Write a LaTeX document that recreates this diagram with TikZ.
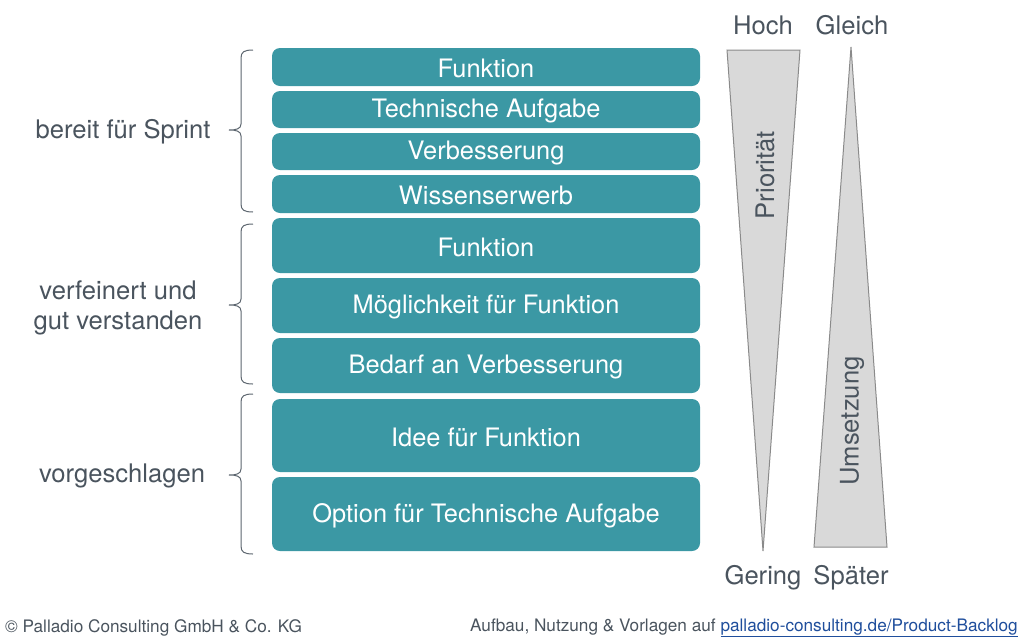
\documentclass[tikz,border=0pt]{standalone}
\usepackage{fontspec}
\setmainfont{TeX Gyre Heros}
\definecolor{teal}{HTML}{3B98A4}
\definecolor{txt}{HTML}{4A545E}
\definecolor{trifill}{HTML}{D9D9D9}
\definecolor{tridraw}{HTML}{8A8A8A}
\definecolor{linkblue}{HTML}{1F4E9C}
\begin{document}
\begin{tikzpicture}[x=1pt,y=-1pt,
  item/.style={fill=teal,rounded corners=8pt,draw=none},
  itemtext/.style={text=white,font=\fontsize{25.4}{30}\selectfont,inner sep=0pt},
  lab/.style={text=txt,font=\fontsize{25.6}{30}\selectfont,inner sep=0pt,align=center},
  brace/.style={draw=txt!90,line width=1pt},
  tri/.style={fill=trifill,draw=tridraw,line width=1pt,line join=miter},
  foot/.style={text=txt,font=\fontsize{17.2}{19}\selectfont,inner sep=0pt}]
\useasboundingbox (0,0) rectangle (1024,643);
% boxes
\foreach \n/\ya/\yb/\t in {b1/48/86/Funktion, b2/91/128/Technische Aufgabe, b3/133/170/Verbesserung, b4/175/213/Wissenserwerb, b5/218/273/Funktion, b6/278/333/Möglichkeit für Funktion, b7/338/393/Bedarf an Verbesserung, b8/399/472/Idee für Funktion, b9/477/551/Option für Technische Aufgabe}{
  \path[item] (272,\ya) rectangle (700,\yb);
  \node[itemtext] (\n) at (486,{(\ya+\yb)/2+1.5}) {\t};
}
% braces
\foreach \n/\ya/\ym/\yb in {c1/50/130/212, c2/224/305/384, c3/394/475/554}{
  \coordinate (\n) at (229,\ym);
  \draw[brace] (253,\ya) .. controls (244,\ya) and (241,{\ya+2}) .. (241,{\ya+8}) -- (241,{\ym-6}) .. controls (241,{\ym-1}) and (236,\ym) .. (\n) .. controls (236,\ym) and (241,{\ym+1}) .. (241,{\ym+6}) -- (241,{\yb-8}) .. controls (241,{\yb-2}) and (244,\yb) .. (253,\yb);
}
\node[lab] (l1) at (123,132) {bereit für Sprint};
\node[lab] (l2) at (118,308) {verfeinert und\\gut verstanden};
\node[lab] (l3) at (122,476) {vorgeschlagen};
% triangles
\draw[tri] (727,50) -- (800,50) -- (763,551) -- cycle;
\draw[tri] (851,47) -- (887,547) -- (814,547) -- cycle;
\node[lab,rotate=90] (prio) at (765,175) {Priorität};
\node[lab,rotate=90] (ums) at (852,421) {Umsetzung};
\node[lab] (hoch) at (763,25) {Hoch};
\node[lab] (gleich) at (852,25) {Gleich};
\node[lab] (gering) at (763,578) {Gering};
\node[lab] (spaeter) at (851,578) {Später};
% footer
\node[foot,anchor=west] (copy) at (5,628) {© Palladio Consulting GmbH \& Co. KG};
\node[foot,anchor=east] (link) at (1018,628) {Aufbau, Nutzung \& Vorlagen auf \textcolor{linkblue}{\underline{palladio-consulting.de/Product-Backlog}}};
\end{tikzpicture}
\end{document}
